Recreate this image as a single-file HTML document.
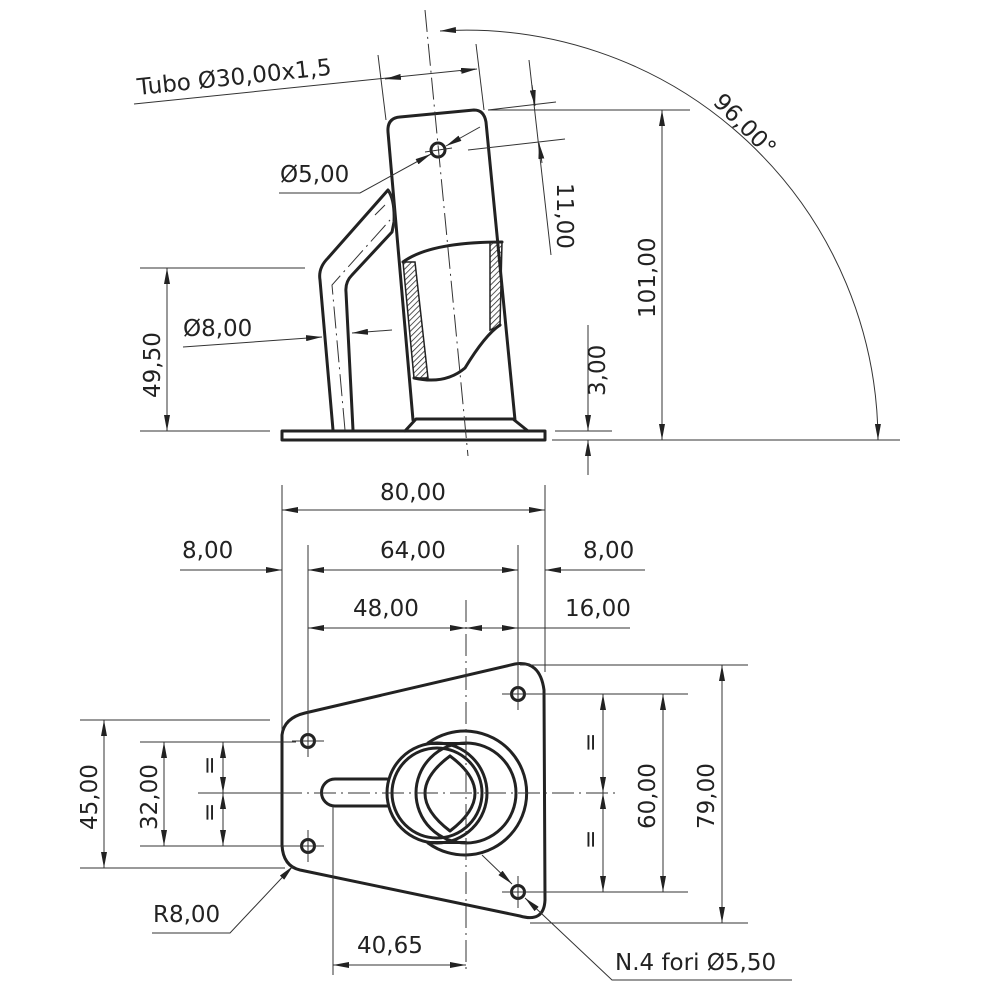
<!DOCTYPE html>
<html><head><meta charset="utf-8"><style>
html,body{margin:0;padding:0;background:#fff}
svg{display:block}
text{font-family:"DejaVu Sans","Liberation Sans",sans-serif;font-size:23px;fill:#222}
.t{stroke:#222;stroke-width:3;fill:none;stroke-linejoin:round;stroke-linecap:round}
.n{stroke:#333;stroke-width:1;fill:none}
.c{stroke:#333;stroke-width:1;fill:none;stroke-dasharray:22,5,2,5}
</style></head><body>
<svg width="1000" height="1000" viewBox="0 0 1000 1000" xmlns="http://www.w3.org/2000/svg">
<defs>
<marker id="a" viewBox="0 0 16 6" refX="16" refY="3" markerWidth="16" markerHeight="6" orient="auto" markerUnits="userSpaceOnUse"><path d="M0,0 L16,3 L0,6 z" fill="#222"/></marker>
<marker id="b" viewBox="0 0 16 6" refX="0" refY="3" markerWidth="16" markerHeight="6" orient="auto" markerUnits="userSpaceOnUse"><path d="M16,0 L0,3 L16,6 z" fill="#222"/></marker>
<pattern id="h" width="4" height="4" patternUnits="userSpaceOnUse" patternTransform="rotate(45)"><line x1="0" y1="0" x2="0" y2="4" stroke="#222" stroke-width="1.5"/></pattern>
</defs>

<!-- ===== SIDE VIEW ===== -->
<rect class="t" x="282" y="431" width="263" height="9"/>
<path class="t" d="M413,420 L388,132 Q387,118 400,117 L474,110 Q484,110 486,122 L515,420"/>
<path class="t" d="M405,431 L416,419 L513,419 L528,431"/>
<circle class="t" cx="438" cy="150" r="7" stroke-width="2.5"/>
<line class="n" x1="425" y1="152" x2="452" y2="148"/>
<path d="M403,262 L415,262 L428,378 L414,378 z" fill="url(#h)" stroke="#222" stroke-width="1.5"/>
<path d="M490,242 L502,242 L500,326 L490,330 z" fill="url(#h)" stroke="#222" stroke-width="1.5"/>
<path class="t" d="M403,262 Q430,242 502,242"/>
<path class="t" d="M414,378 Q445,385 465,368 Q485,335 500,325"/>
<path class="t" d="M333,430 L320,280 Q318,268 328,258 L388,190 Q395,200 394,222 L392,232 L352,275 Q345,282 346,292 L353,430"/>
<path class="n" d="M388,190 Q398,205 393,232"/>
<line class="n" x1="375" y1="215" x2="385" y2="205"/>
<path class="c" d="M345,430 L332,285 L390,220"/>
<line class="c" x1="425" y1="10" x2="468" y2="456"/>

<text transform="translate(138,95) rotate(-6)">Tubo Ø30,00x1,5</text>
<line class="n" x1="134" y1="104" x2="475" y2="69"/>
<line class="n" x1="378" y1="55" x2="386" y2="120"/>
<line class="n" x1="476" y1="44" x2="484" y2="110"/>
<line class="n" x1="385" y1="79" x2="400" y2="77" marker-start="url(#b)"/>
<line class="n" x1="460" y1="71" x2="477" y2="69" marker-end="url(#a)"/>
<text x="280" y="182">Ø5,00</text>
<polyline class="n" points="279,193 360,193 431,154" marker-end="url(#a)"/>
<line class="n" x1="480" y1="127" x2="446" y2="146" marker-end="url(#a)"/>
<line class="n" x1="488" y1="110" x2="556" y2="102"/>
<line class="n" x1="468" y1="150" x2="565" y2="139"/>
<line class="n" x1="529" y1="60" x2="551" y2="255"/>
<line class="n" x1="532" y1="85" x2="535" y2="106" marker-end="url(#a)"/>
<line class="n" x1="542" y1="163" x2="539" y2="143" marker-end="url(#a)"/>
<text transform="translate(557,183) rotate(90)">11,00</text>
<path class="n" d="M440,31 A412,412 0 0 1 878,440" marker-start="url(#b)" marker-end="url(#a)"/>
<line class="n" x1="552" y1="440" x2="900" y2="440"/>
<text transform="translate(712,103) rotate(45)">96,00°</text>
<line class="n" x1="488" y1="110" x2="690" y2="110"/>
<line class="n" x1="662" y1="110" x2="662" y2="440" marker-start="url(#b)" marker-end="url(#a)"/>
<text transform="translate(655,318) rotate(-90)">101,00</text>
<line class="n" x1="555" y1="431" x2="612" y2="431"/>
<line class="n" x1="588" y1="325" x2="588" y2="431" marker-end="url(#a)"/>
<line class="n" x1="588" y1="475" x2="588" y2="440" marker-end="url(#a)"/>
<text transform="translate(605,396) rotate(-90)">3,00</text>
<line class="n" x1="140" y1="268" x2="305" y2="268"/>
<line class="n" x1="140" y1="431" x2="270" y2="431"/>
<line class="n" x1="167" y1="268" x2="167" y2="431" marker-start="url(#b)" marker-end="url(#a)"/>
<text transform="translate(160,398) rotate(-90)">49,50</text>
<text x="183" y="336">Ø8,00</text>
<line class="n" x1="183" y1="347" x2="322" y2="337" marker-end="url(#a)"/>
<line class="n" x1="392" y1="330" x2="352" y2="333" marker-end="url(#a)"/>

<!-- ===== TOP VIEW ===== -->
<path class="t" d="M305,713 L515,664 Q540,660 544,690 L545,900 Q544,923 520,916 L300,870 Q283,866 282,845 L282,735 Q284,718 305,713 z"/>
<g class="t" stroke-width="2.5">
<circle cx="308" cy="741" r="6.5"/><circle cx="308" cy="846" r="6.5"/>
<circle cx="518" cy="694" r="6.5"/><circle cx="518" cy="892" r="6.5"/>
</g>
<g class="n">
<line x1="292" y1="741" x2="324" y2="741"/><line x1="308" y1="725" x2="308" y2="757"/>
<line x1="292" y1="846" x2="324" y2="846"/><line x1="308" y1="830" x2="308" y2="862"/>
<line x1="502" y1="694" x2="534" y2="694"/><line x1="518" y1="678" x2="518" y2="710"/>
<line x1="502" y1="892" x2="534" y2="892"/><line x1="518" y1="876" x2="518" y2="908"/>
</g>
<path class="t" d="M428,743 A62,62 0 1 1 428,843"/>
<circle class="t" cx="466" cy="793" r="50"/>
<circle class="t" cx="437" cy="793" r="50" fill="#fff"/>
<circle class="t" cx="437" cy="793" r="45"/>
<line class="t" x1="430" y1="743.5" x2="466" y2="743.5"/>
<line class="t" x1="430" y1="842.5" x2="466" y2="842.5"/>
<path class="t" d="M450,756 Q400,793 450,831 Q500,793 450,756"/>
<path class="t" d="M335,779 L387,779 M335,806 L387,806 M335,779 A13.5,13.5 0 0 0 335,806"/>
<line class="c" x1="280" y1="793" x2="620" y2="793"/>
<line class="c" x1="466" y1="600" x2="466" y2="972"/>

<line class="n" x1="282" y1="485" x2="282" y2="730"/>
<line class="n" x1="545" y1="485" x2="545" y2="672"/>
<line class="n" x1="282" y1="510" x2="545" y2="510" marker-start="url(#b)" marker-end="url(#a)"/>
<text x="380" y="500">80,00</text>
<line class="n" x1="308" y1="545" x2="308" y2="735"/>
<line class="n" x1="518" y1="545" x2="518" y2="686"/>
<line class="n" x1="308" y1="570" x2="518" y2="570" marker-start="url(#b)" marker-end="url(#a)"/>
<line class="n" x1="180" y1="570" x2="282" y2="570" marker-end="url(#a)"/>
<line class="n" x1="645" y1="570" x2="545" y2="570" marker-end="url(#a)"/>
<text x="380" y="558">64,00</text>
<text x="182" y="558">8,00</text>
<text x="583" y="558">8,00</text>
<line class="n" x1="308" y1="628" x2="466" y2="628" marker-start="url(#b)" marker-end="url(#a)"/>
<line class="n" x1="466" y1="628" x2="518" y2="628" marker-start="url(#b)" marker-end="url(#a)"/>
<line class="n" x1="518" y1="628" x2="630" y2="628"/>
<text x="353" y="616">48,00</text>
<text x="565" y="616">16,00</text>
<line class="n" x1="520" y1="665" x2="748" y2="665"/>
<line class="n" x1="530" y1="694" x2="688" y2="694"/>
<line class="n" x1="530" y1="892" x2="688" y2="892"/>
<line class="n" x1="530" y1="923" x2="748" y2="923"/>
<line class="n" x1="603" y1="694" x2="603" y2="793" marker-start="url(#b)" marker-end="url(#a)"/>
<line class="n" x1="603" y1="793" x2="603" y2="892" marker-start="url(#b)" marker-end="url(#a)"/>
<line class="n" x1="663" y1="694" x2="663" y2="892" marker-start="url(#b)" marker-end="url(#a)"/>
<line class="n" x1="722" y1="665" x2="722" y2="923" marker-start="url(#b)" marker-end="url(#a)"/>
<text transform="translate(598,752) rotate(-90)">=</text>
<text transform="translate(598,849) rotate(-90)">=</text>
<text transform="translate(655,829) rotate(-90)">60,00</text>
<text transform="translate(714,829) rotate(-90)">79,00</text>
<line class="n" x1="80" y1="720" x2="270" y2="720"/>
<line class="n" x1="80" y1="868" x2="285" y2="868"/>
<line class="n" x1="140" y1="742" x2="296" y2="742"/>
<line class="n" x1="140" y1="846" x2="296" y2="846"/>
<line class="n" x1="104" y1="720" x2="104" y2="868" marker-start="url(#b)" marker-end="url(#a)"/>
<line class="n" x1="164" y1="742" x2="164" y2="846" marker-start="url(#b)" marker-end="url(#a)"/>
<line class="n" x1="223" y1="742" x2="223" y2="793" marker-start="url(#b)" marker-end="url(#a)"/>
<line class="n" x1="223" y1="793" x2="223" y2="846" marker-start="url(#b)" marker-end="url(#a)"/>
<line class="n" x1="198" y1="793" x2="280" y2="793"/>
<text transform="translate(97,830) rotate(-90)">45,00</text>
<text transform="translate(157,830) rotate(-90)">32,00</text>
<text transform="translate(217,775) rotate(-90)">=</text>
<text transform="translate(217,822) rotate(-90)">=</text>
<text x="153" y="922">R8,00</text>
<polyline class="n" points="152,933 230,933 293,866" marker-end="url(#a)"/>
<line class="n" x1="333" y1="806" x2="333" y2="975"/>
<line class="n" x1="333" y1="965" x2="466" y2="965" marker-start="url(#b)" marker-end="url(#a)"/>
<text x="357" y="953">40,65</text>
<text x="615" y="970">N.4 fori Ø5,50</text>
<polyline class="n" points="792,980 612,980 525,898" marker-end="url(#a)"/>
<line class="n" x1="482" y1="855" x2="512" y2="884" marker-end="url(#a)"/>
</svg>
</body></html>
